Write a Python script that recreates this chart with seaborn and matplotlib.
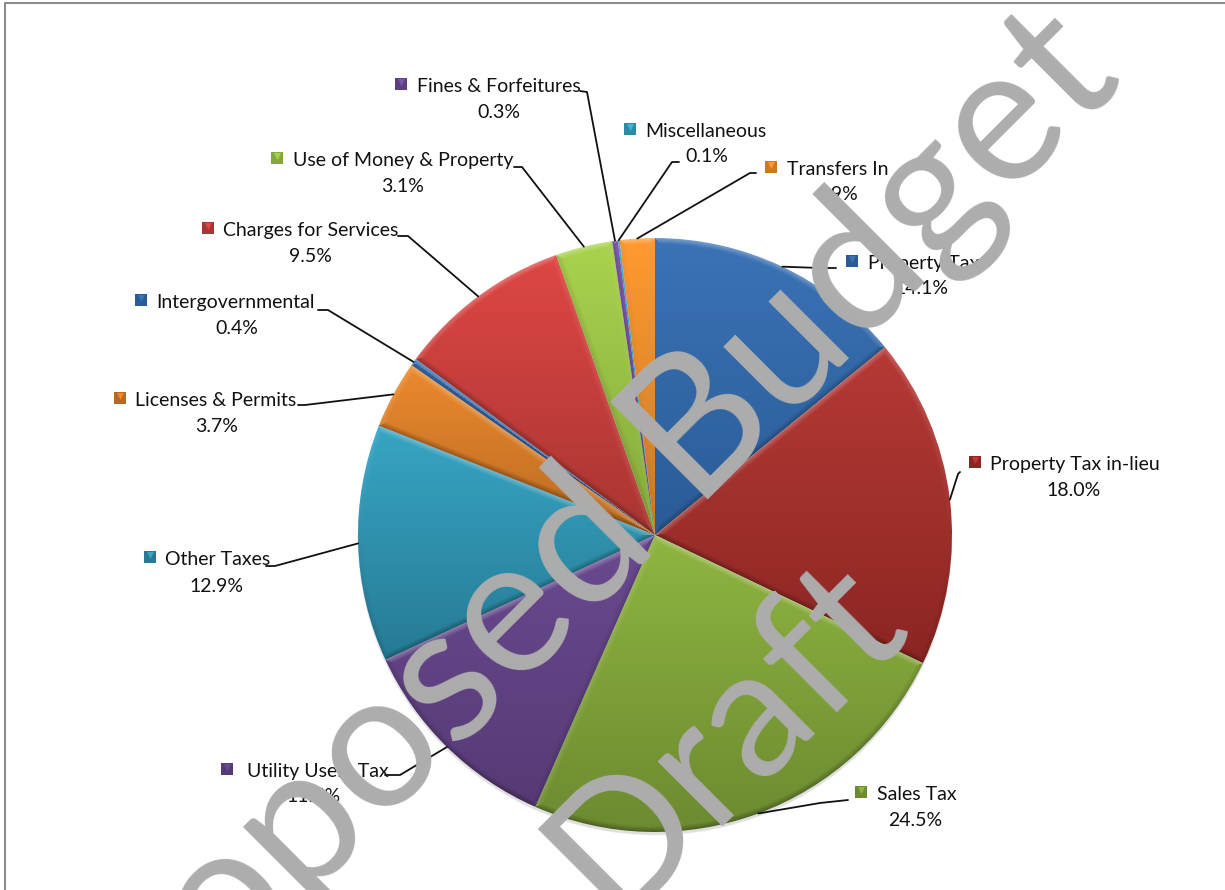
import numpy as np
import matplotlib
matplotlib.use("Agg")
import matplotlib.pyplot as plt
from matplotlib.colors import to_rgb
import seaborn as sns

# Revenue shares by source, percent of the total
categories = ["Property Tax", "Property Tax in-lieu", "Sales Tax", "Utility Users Tax",
              "Other Taxes", "Licenses & Permits", "Intergovernmental", "Charges for Services",
              "Use of Money & Property", "Fines & Forfeitures", "Miscellaneous", "Transfers In"]
shares = [14.1, 18.0, 24.5, 11.5, 12.9, 3.7, 0.4, 9.5, 3.1, 0.3, 0.1, 1.9]
percent_labels = ["14.1%", "18.0%", "24.5%", "11.5%", "12.9%", "3.7%", "0.4%", "9.5%", "3.1%", "0.3%", "0.1%", "1.9%"]

top_colors = ["#3B73B6", "#B63A36", "#8FB541", "#6A4A90", "#37A5C4", "#EC8A2E",
              "#3B73B6", "#DE4744", "#A9D34E", "#7A55A8", "#3FB5D6", "#FF9A30"]
bottom_colors = ["#2A5B96", "#8A2522", "#6C8A30", "#563A75", "#267A94", "#B96A22",
                 "#2A5B96", "#A83532", "#85A83C", "#5D3F80", "#2E8BA8", "#C97A25"]

# Label layout in figure pixels: marker centre, name start, percent centre
marker_xy = [(852, 261), (975, 462), (861, 792), (227, 769), (150, 557), (120, 398),
             (141, 300), (208, 228), (277, 158), (401, 84), (630, 129), (771, 167)]
name_x = [868, 990, 877, 247, 165, 135, 156, 223, 293, 417, 645, 787]
percent_xy = [(921, 288), (1074, 490), (915, 820), (314, 797), (216, 586), (217, 426),
              (237, 328), (310, 256), (403, 186), (499, 112), (707, 157), (837, 195)]
# Leader line bends and ends, in figure pixels
leader_bend = [(820, 268), (958, 474), (820, 803), (400, 775), (275, 566), (305, 405),
               (328, 310), (408, 236), (522, 167), (587, 92), (672, 162), (750, 173)]
leader_end = [(836, 268), (960, 472), (848, 800), (385, 775), (266, 566), (298, 405),
              (318, 310), (398, 236), (514, 167), (580, 91), (679, 162), (756, 173)]

CX, CY, R = 655, 535, 297
WIDTH, HEIGHT = 1225, 890
BEVEL = 6.0
WATERMARK_GRAY = "#ADADAD"

sns.set_theme(style="white")
plt.rcParams["font.family"] = ["Lato", "DejaVu Sans"]

fig = plt.figure(figsize=(WIDTH / 100, HEIGHT / 100), dpi=100, facecolor="white")
ax = fig.add_axes([0, 0, 1, 1])

# With the y axis pointing down, counterclock angles run clockwise on screen
wedges, _ = ax.pie(shares, startangle=-90, counterclock=True, center=(CX, CY), radius=R,
                   wedgeprops=dict(linewidth=0), colors=sns.color_palette("deep", 12))
ax.set_xlim(0, WIDTH)
ax.set_ylim(HEIGHT, 0)
ax.set_aspect("equal")
ax.set_autoscale_on(False)
ax.axis("off")

# Soft shadow along the lower rim
for grow, alpha in [(3, 0.05), (1.5, 0.08)]:
    ax.add_patch(plt.Circle((CX, CY + 3), R + grow / 2 - 1, color="black", alpha=alpha, lw=0, zorder=0.5))

# Raster shading: a vertical ramp per wedge plus a bevel along all three of its edges
xs = np.arange(CX - R - 4, CX + R + 5)
ys = np.arange(CY - R - 4, CY + R + 5)
gx, gy = np.meshgrid(xs + 0.5, ys + 0.5)
dx, dy = gx - CX, gy - CY
rad = np.maximum(np.hypot(dx, dy), 1e-6)
clock = np.arctan2(dx, -dy) % (2 * np.pi)
edges = np.cumsum([0] + shares) / sum(shares) * 2 * np.pi

for i, (wedge, top, bottom) in enumerate(zip(wedges, top_colors, bottom_colors)):
    a1, a2 = edges[i], edges[i + 1]
    box = wedge.get_path().get_extents(wedge.get_patch_transform())
    t = np.clip((gy - box.y0) / max(box.height, 1), 0, 1)[..., None]
    img = np.array(to_rgb(top)) * (1 - t) + np.array(to_rgb(bottom)) * t
    # Distance to each edge and how much that edge faces the light from above
    dist = np.stack([rad * np.abs(np.sin(clock - a1)), rad * np.abs(np.sin(clock - a2)), R - rad])
    facing = np.stack([np.full_like(rad, np.sin(a1)), np.full_like(rad, -np.sin(a2)), -dy / rad])
    near = np.argmin(dist, axis=0)
    d = np.take_along_axis(dist, near[None], axis=0)[0]
    f = np.take_along_axis(facing, near[None], axis=0)[0]
    amount = (np.clip(1 - d / BEVEL, 0, 1) * f)[..., None]
    img = np.where(amount > 0, img + (1 - img) * amount * 0.32, img * (1 + amount * 0.32))
    im = ax.imshow(np.clip(img, 0, 1), extent=(xs[0], xs[-1] + 1, ys[-1] + 1, ys[0]),
                   origin="upper", interpolation="bilinear", zorder=2, aspect="auto")
    im.set_clip_path(wedge)
    wedge.set_visible(False)

ax.set_xlim(0, WIDTH)
ax.set_ylim(HEIGHT, 0)

# Labels, markers and leader lines
mid = (edges[:-1] + edges[1:]) / 2
for i, name in enumerate(categories):
    sx = CX + R * np.sin(mid[i])
    sy = CY - R * np.cos(mid[i])
    ax.plot([sx, leader_bend[i][0], leader_end[i][0]], [sy, leader_bend[i][1], leader_end[i][1]],
            color="#111111", lw=1.3, solid_joinstyle="round", zorder=3)
    mx, my = marker_xy[i]
    ax.scatter([mx], [my], marker="s", s=82, c=[bottom_colors[i]], linewidths=0, zorder=4)
    ax.scatter([mx], [my - 2], marker="v", s=26, c=[top_colors[i]], linewidths=0, zorder=4)
    ax.text(name_x[i], my + 2.5, name, fontsize=14, color="#111111", ha="left", va="center", zorder=4)
    ax.text(percent_xy[i][0], percent_xy[i][1], percent_labels[i], fontsize=14, color="#111111",
            ha="center", va="center", zorder=4)

# Chart frame on the top and left
ax.plot([WIDTH, 5, 5], [3, 3, HEIGHT], color="#8C8C8C", lw=1.5, zorder=1)

# Diagonal watermark, anchored where each line's baseline ends
ax.text(1126, 82, "Proposed Budget", fontsize=138, color=WATERMARK_GRAY, rotation=45,
        rotation_mode="anchor", ha="right", va="baseline", zorder=6)
ax.text(910, 623, "Draft", fontsize=130, color=WATERMARK_GRAY, rotation=45,
        rotation_mode="anchor", ha="right", va="baseline", zorder=6)

fig.savefig("out.png", dpi=100)
